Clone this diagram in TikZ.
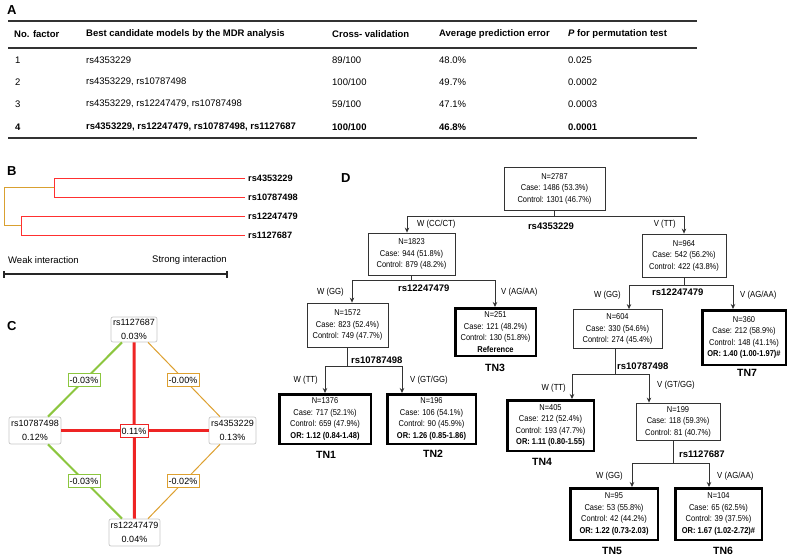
\documentclass[tikz,border=0pt]{standalone}
\usepackage{fontspec}
\setmainfont{Liberation Sans}
\newfontfamily\dfont[FakeStretch=0.88]{Liberation Sans}
\usetikzlibrary{arrows.meta}
\definecolor{cred}{HTML}{EE2424}
\definecolor{cgreen}{HTML}{8CC63F}
\definecolor{corange}{HTML}{DDA030}
\definecolor{dred}{HTML}{FF3030}
\definecolor{dorange}{HTML}{D9A030}
\tikzset{
  th/.style={anchor=west, inner sep=0pt, font=\fontsize{9.5}{11}\selectfont\bfseries},
  td/.style={anchor=west, inner sep=0pt, font=\fontsize{9.5}{11}\selectfont},
  tdb/.style={anchor=west, inner sep=0pt, font=\fontsize{9.5}{11}\selectfont\bfseries},
  panel/.style={anchor=west, inner sep=0pt, font=\fontsize{13}{14}\selectfont\bfseries},
  rule/.style={draw=black!80},
  dlab/.style={anchor=west, inner sep=0pt, font=\fontsize{9.2}{10}\selectfont\bfseries},
  plain/.style={inner sep=0pt, font=\fontsize{9.5}{11}\selectfont},
  cnode/.style={draw=black!22, line width=0.7pt, rounded corners=2pt, fill=white, align=center, inner sep=0.5pt, font=\fontsize{9}{13.5}\selectfont},
  elab/.style={draw=#1, line width=0.7pt, fill=white, inner sep=0pt, minimum width=32pt, minimum height=12.5pt, font=\fontsize{9}{10}\selectfont},
  box/.style={draw=black!80, line width=0.8pt, align=center, inner sep=0pt, font=\dfont\fontsize{8.5}{11.5}\selectfont},
  tnbox/.style={box, draw=black, line width=2.5pt},
  conn/.style={draw=black!80, line width=0.8pt},
  arr/.style={conn, -{Stealth[length=5pt,width=4.5pt]}},
  blab/.style={inner sep=0pt, font=\dfont\fontsize{8.8}{10}\selectfont},
  slab/.style={inner sep=0pt, font=\fontsize{9.5}{11}\selectfont\bfseries},
  tnlab/.style={inner sep=0pt, font=\fontsize{10.5}{12}\selectfont\bfseries},
}
\begin{document}
\begin{tikzpicture}[x=1pt,y=-1pt]
\fill[white] (0,0) rectangle (800,559);
\useasboundingbox (0,0) rectangle (800,559);

% ---------------- Panel A ----------------
\node[panel] (pa) at (7,10) {A};
\draw[rule, line width=2pt] (8,21) -- (697,21);
\draw[rule, line width=1.5pt] (8,48) -- (697,48);
\draw[rule, line width=2pt] (8,138) -- (697,138);
\node[th] (h1) at (14,34) {No. factor};
\node[th] (h2) at (86,34) {Best candidate models by the MDR analysis};
\node[th] (h3) at (332,34) {Cross- validation};
\node[th] (h4) at (439,34) {Average prediction error};
\node[th] (h5) at (568,34) {\textit{P} for permutation test};

\node[td] (r1a) at (15,60) {1};
\node[td] (r1b) at (86,60) {rs4353229};
\node[td] (r1c) at (332,60) {89/100};
\node[td] (r1d) at (439,60) {48.0\%};
\node[td] (r1e) at (568,60) {0.025};

\node[td] (r2a) at (15,82) {2};
\node[td] (r2b) at (86,82) {rs4353229, rs10787498};
\node[td] (r2c) at (332,82) {100/100};
\node[td] (r2d) at (439,82) {49.7\%};
\node[td] (r2e) at (568,82) {0.0002};

\node[td] (r3a) at (15,104) {3};
\node[td] (r3b) at (86,104) {rs4353229, rs12247479, rs10787498};
\node[td] (r3c) at (332,104) {59/100};
\node[td] (r3d) at (439,104) {47.1\%};
\node[td] (r3e) at (568,104) {0.0003};

\node[tdb] (r4a) at (15,127) {4};
\node[tdb] (r4b) at (86,127) {rs4353229, rs12247479, rs10787498, rs1127687};
\node[tdb] (r4c) at (332,127) {100/100};
\node[tdb] (r4d) at (439,127) {46.8\%};
\node[tdb] (r4e) at (568,127) {0.0001};

% ---------------- Panel B ----------------
\node[panel] (pb) at (7,171) {B};
\draw[dorange, line width=1pt] (54,187) -- (4,187) -- (4,225) -- (21,225);
\draw[dred, line width=1pt] (245,178) -- (54,178) -- (54,197) -- (245,197);
\draw[dred, line width=1pt] (245,216) -- (21,216) -- (21,235) -- (245,235);
\node[dlab] (b1) at (248,178) {rs4353229};
\node[dlab] (b2) at (248,197) {rs10787498};
\node[dlab] (b3) at (248,216) {rs12247479};
\node[dlab] (b4) at (248,235) {rs1127687};
\node[plain, anchor=west] (weak) at (8,260) {Weak interaction};
\node[plain, anchor=west] (strong) at (152,260) {Strong interaction};
\coordinate (sbl) at (4,274);
\coordinate (sbr) at (227,274);
\draw[black!85, line width=2pt] (sbl) -- (sbr);
\draw[black!85, line width=1.5pt] ([yshift=-3.5pt]sbl) -- ([yshift=3.5pt]sbl);
\draw[black!85, line width=1.5pt] ([yshift=-3.5pt]sbr) -- ([yshift=3.5pt]sbr);

% ---------------- Panel C ----------------
\node[panel] (pc) at (7,326) {C};
\node[cnode, minimum width=46pt, minimum height=25pt] (c1) at (134,329.5) {rs1127687\\0.03\%};
\node[cnode, minimum width=52pt, minimum height=27pt] (c2) at (35,430.5) {rs10787498\\0.12\%};
\node[cnode, minimum width=47pt, minimum height=27pt] (c3) at (232.5,430.5) {rs4353229\\0.13\%};
\node[cnode, minimum width=51pt, minimum height=27pt] (c4) at (134.5,532.5) {rs12247479\\0.04\%};
\draw[cred, line width=3pt] (c1.south) -- (c4.north);
\draw[cred, line width=3pt] (c2.east) -- (c3.west);
\draw[cgreen, line width=2pt] ([xshift=-12pt]c1.south) -- ([xshift=13pt]c2.north);
\draw[corange, line width=1pt] ([xshift=14pt]c1.south) -- ([xshift=-12.5pt]c3.north);
\draw[cgreen, line width=2pt] ([xshift=13pt]c2.south) -- ([xshift=-12.5pt]c4.north);
\draw[corange, line width=1pt] ([xshift=-12.5pt]c3.south) -- ([xshift=13.5pt]c4.north);
\node[elab=cred, minimum width=28pt] (e0) at (134,431) {0.11\%};
\node[elab=cgreen] (e1) at (84,380) {-0.03\%};
\node[elab=corange] (e2) at (183,380) {-0.00\%};
\node[elab=cgreen] (e3) at (84,481) {-0.03\%};
\node[elab=corange] (e4) at (183,481) {-0.02\%};

% ---------------- Panel D ----------------
\node[panel] (pd) at (341,178) {D};
\node[box, minimum width=101pt, minimum height=43pt] (root) at (554.5,188.5) {N=2787\\Case: 1486 (53.3\%)\\Control: 1301 (46.7\%)};
\node[box, minimum width=87pt, minimum height=42pt] (n1823) at (411.5,254) {N=1823\\Case: 944 (51.8\%)\\Control: 879 (48.2\%)};
\node[box, minimum width=84pt, minimum height=43pt] (n964) at (684,255.5) {N=964\\Case: 542 (56.2\%)\\Control: 422 (43.8\%)};
\node[box, minimum width=81pt, minimum height=44pt] (n1572) at (347.5,325) {N=1572\\Case: 823 (52.4\%)\\Control: 749 (47.7\%)};
\node[tnbox, minimum width=80.5pt, minimum height=47.5pt] (tn3) at (495.5,332) {N=251\\Case: 121 (48.2\%)\\Control: 130 (51.8\%)\\\textbf{Reference}};
\node[tnbox, minimum width=91.5pt, minimum height=49.5pt] (tn1) at (325,419) {N=1376\\Case: 717 (52.1\%)\\Control: 659 (47.9\%)\\\textbf{OR: 1.12 (0.84-1.48)}};
\node[tnbox, minimum width=88.5pt, minimum height=49.5pt] (tn2) at (431.5,419) {N=196\\Case: 106 (54.1\%)\\Control: 90 (45.9\%)\\\textbf{OR: 1.26 (0.85-1.86)}};
\node[box, minimum width=89pt, minimum height=39pt] (n604) at (617.5,329) {N=604\\Case: 330 (54.6\%)\\Control: 274 (45.4\%)};
\node[tnbox, minimum width=83.5pt, minimum height=54.5pt] (tn7) at (744,337.5) {N=360\\Case: 212 (58.9\%)\\Control: 148 (41.1\%)\\\textbf{OR: 1.40 (1.00-1.97)\#}};
\node[tnbox, minimum width=86.5pt, minimum height=50.5pt] (tn4) at (550.5,425.5) {N=405\\Case: 212 (52.4\%)\\Control: 193 (47.7\%)\\\textbf{OR: 1.11 (0.80-1.55)}};
\node[box, minimum width=84pt, minimum height=37pt] (n199) at (678,421.5) {N=199\\Case: 118 (59.3\%)\\Control: 81 (40.7\%)};
\node[tnbox, minimum width=87.5pt, minimum height=51.5pt] (tn5) at (614,514) {N=95\\Case: 53 (55.8\%)\\Control: 42 (44.2\%)\\\textbf{OR: 1.22 (0.73-2.03)}};
\node[tnbox, minimum width=86.5pt, minimum height=51.5pt] (tn6) at (718.5,514) {N=104\\Case: 65 (62.5\%)\\Control: 39 (37.5\%)\\\textbf{OR: 1.67 (1.02-2.72)\#}};

% split 1: root
\coordinate (s1l) at (407,216);
\coordinate (s1r) at (684,216);
\draw[conn] (root.south) -- (root.south |- s1l);
\draw[conn] (s1l) -- (s1r);
\draw[arr] (s1l) -- (s1l |- n1823.north);
\draw[arr] (s1r) -- (s1r |- n964.north);
\node[blab, anchor=west] (l1a) at (417,224) {W (CC/CT)};
\node[blab, anchor=east] (l1b) at (676,224) {V (TT)};
\node[slab] (l1c) at (551,226) {rs4353229};

% split 2: n1823
\coordinate (s2l) at (352,280);
\coordinate (s2r) at (495,280);
\draw[conn] (n1823.south) -- (n1823.south |- s2l);
\draw[conn] (s2l) -- (s2r);
\draw[arr] (s2l) -- (s2l |- n1572.north);
\draw[arr] (s2r) -- (s2r |- tn3.north);
\node[blab, anchor=east] (l2a) at (344,292) {W (GG)};
\node[slab, anchor=west] (l2c) at (398,288) {rs12247479};
\node[blab, anchor=west] (l2b) at (501,292) {V (AG/AA)};

% split 3: n1572
\coordinate (s3l) at (325,366);
\coordinate (s3r) at (402,366);
\draw[conn] (n1572.south) -- (n1572.south |- s3l);
\draw[conn] (s3l) -- (s3r);
\draw[arr] (s3l) -- (s3l |- tn1.north);
\draw[arr] (s3r) -- (s3r |- tn2.north);
\node[slab, anchor=west] (l3c) at (351,360) {rs10787498};
\node[blab, anchor=east] (l3a) at (318,380) {W (TT)};
\node[blab, anchor=west] (l3b) at (410,380) {V (GT/GG)};

% split 4: n964
\coordinate (s4l) at (629,285);
\coordinate (s4r) at (733,285);
\draw[conn] (n964.south) -- (n964.south |- s4l);
\draw[conn] (s4l) -- (s4r);
\draw[arr] (s4l) -- (s4l |- n604.north);
\draw[arr] (s4r) -- (s4r |- tn7.north);
\node[blab, anchor=east] (l4a) at (621,295) {W (GG)};
\node[slab, anchor=west] (l4c) at (652,292) {rs12247479};
\node[blab, anchor=west] (l4b) at (740,295) {V (AG/AA)};

% split 5: n604
\coordinate (s5l) at (572,374);
\coordinate (s5r) at (649,374);
\draw[conn] (n604.south -| 615,0) -- (s5l -| 615,0);
\draw[conn] (s5l) -- (s5r);
\draw[arr] (s5l) -- (s5l |- tn4.north);
\draw[arr] (s5r) -- (s5r |- n199.north);
\node[slab, anchor=west] (l5c) at (617,366) {rs10787498};
\node[blab, anchor=east] (l5a) at (566,388) {W (TT)};
\node[blab, anchor=west] (l5b) at (657,385) {V (GT/GG)};

% split 6: n199
\coordinate (s6l) at (632,463);
\coordinate (s6r) at (709,463);
\draw[conn] (n199.south -| 673,0) -- (s6l -| 673,0);
\draw[conn] (s6l) -- (s6r);
\draw[arr] (s6l) -- (s6l |- tn5.north);
\draw[arr] (s6r) -- (s6r |- tn6.north);
\node[slab, anchor=west] (l6c) at (679,454) {rs1127687};
\node[blab, anchor=east] (l6a) at (623,476) {W (GG)};
\node[blab, anchor=west] (l6b) at (717,476) {V (AG/AA)};

% terminal node labels
\node[tnlab] (t1) at (326,455) {TN1};
\node[tnlab] (t2) at (433,454) {TN2};
\node[tnlab] (t3) at (495,368) {TN3};
\node[tnlab] (t4) at (542,462) {TN4};
\node[tnlab] (t5) at (612,551) {TN5};
\node[tnlab] (t6) at (723,551) {TN6};
\node[tnlab] (t7) at (747,373) {TN7};
\end{tikzpicture}
\end{document}
